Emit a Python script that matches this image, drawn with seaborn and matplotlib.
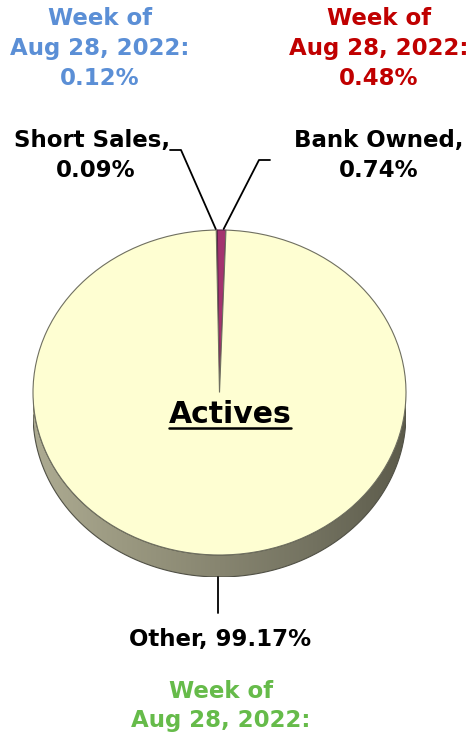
import numpy as np
import matplotlib
matplotlib.use("Agg")
import matplotlib.pyplot as plt
import seaborn as sns
from matplotlib.patches import PathPatch
from matplotlib.path import Path
from matplotlib.colors import LinearSegmentedColormap

# ---- data ----
labels = ["Short Sales", "Bank Owned", "Other"]
shares = [0.09, 0.74, 99.17]
prior_values = ["0.12%", "0.48%", ""]
prior_header = ["Week of", "Aug 28, 2022:"]
slice_colors = ["#8e3a78", "#a3336f", "#fefed2"]
prior_colors = ["#5b8fd6", "#c00000", "#66bb4a"]
title = "Actives"

sns.set_theme(style="white")
plt.rcParams['font.family'] = ['DejaVu Sans']

W, H = 474, 737
fig = plt.figure(figsize=(W / 100, H / 100), dpi=100)
fig.patch.set_facecolor("white")

# pie axes: top face bbox x 33..406, y 230..555, side depth to 577
top_px, bot_px, left_px, right_px = 230, 577, 33, 406
half_h = (555 - 230) / 2
d = (577 - 555) / half_h
ax = fig.add_axes([left_px / W, 1 - bot_px / H, (right_px - left_px) / W, (bot_px - top_px) / H])
wedges, _ = ax.pie(shares, colors=slice_colors, startangle=91, counterclock=False,
                   wedgeprops=dict(edgecolor="#6f6f60", linewidth=0.8))
wedges[0].set_edgecolor("#5a2048")
wedges[1].set_edgecolor("#5a2048")
ax.set_aspect("auto")
ax.axis("off")

# side (extrusion)
t = np.linspace(np.pi, 2 * np.pi, 200)
xs = np.concatenate([np.cos(t), np.cos(t[::-1])])
ys = np.concatenate([np.sin(t) - d, np.sin(t[::-1])])
side_path = Path(np.column_stack([xs, ys]))
side_patch = PathPatch(side_path, facecolor="none", edgecolor="#505045", lw=0.8, zorder=0.6)
ax.add_patch(side_patch)
cmap = LinearSegmentedColormap.from_list("side", ["#adab92", "#9a9880", "#878570", "#737260", "#5c5b4b"])
grad = np.linspace(0, 1, 256).reshape(1, -1)
im = ax.imshow(grad, cmap=cmap, extent=(-1, 1, -1 - d, 0), aspect="auto", zorder=0.5)
im.set_clip_path(side_patch)
ax.set_xlim(-1, 1)
ax.set_ylim(-1 - d, 1)

# overlay in pixel coordinates
over = fig.add_axes([0, 0, 1, 1])
over.set_xlim(0, W)
over.set_ylim(H, 0)
over.axis("off")
over.patch.set_alpha(0)

def to_px(x, y):
    disp = ax.transData.transform((x, y))
    return over.transData.inverted().transform(disp)

fs = 16.5
kw = dict(ha="center", va="baseline", fontsize=fs, fontweight="bold")

# prior-week headers
over.text(100, 25, prior_header[0], color=prior_colors[0], **kw)
over.text(100, 55, prior_header[1], color=prior_colors[0], **kw)
over.text(100, 85, prior_values[0], color=prior_colors[0], **kw)
over.text(379, 25, prior_header[0], color=prior_colors[1], **kw)
over.text(379, 55, prior_header[1], color=prior_colors[1], **kw)
over.text(379, 85, prior_values[1], color=prior_colors[1], **kw)
over.text(221, 698, prior_header[0], color=prior_colors[2], **kw)
over.text(221, 727, prior_header[1], color=prior_colors[2], **kw)

# slice labels
over.text(92, 147, f"{labels[0]},", color="black", **kw)
over.text(96, 177, f"{shares[0]:.2f}%", color="black", **kw)
over.text(379, 147, f"{labels[1]},", color="black", **kw)
over.text(379, 177, f"{shares[1]:.2f}%", color="black", **kw)
over.text(220, 646, f"{labels[2]}, {shares[2]:.2f}%", color="black", **kw)

# leader lines
def top_point(w):
    a = np.deg2rad((w.theta1 + w.theta2) / 2)
    return to_px(np.cos(a), np.sin(a))

p0 = top_point(wedges[0])
p1 = top_point(wedges[1])
over.plot([170, 181, p0[0] - 1], [150, 150, p0[1] - 1], color="black", lw=1.3)
over.plot([270, 259, p1[0] + 2], [160, 160, p1[1] - 1], color="black", lw=1.3)
# other label line from bottom of the side
a2 = np.deg2rad((wedges[2].theta1 + wedges[2].theta2) / 2)
pb = to_px(np.cos(a2), np.sin(a2) - d)
over.plot([pb[0], pb[0]], [pb[1], 613], color="black", lw=1.3)

# title with underline
tt = over.text(230, 423, title, ha="center", va="baseline", fontsize=21.5, fontweight="bold", color="black")
fig.canvas.draw()
bb = tt.get_window_extent().transformed(over.transData.inverted())
over.plot([bb.x0, bb.x1], [428, 428], color="black", lw=1.8)

fig.savefig("out.png", dpi=100, facecolor="white")
